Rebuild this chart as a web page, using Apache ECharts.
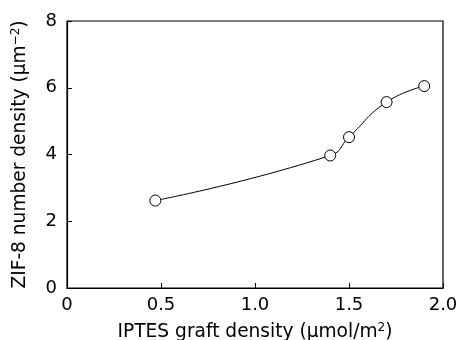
<!DOCTYPE html>
<html>
<head>
<meta charset="utf-8">
<script src="https://cdn.jsdelivr.net/npm/echarts@6/dist/echarts.min.js"></script>
<style>
  html, body { margin: 0; padding: 0; background: #fff; }
  #chart { width: 457px; height: 340px; }
</style>
</head>
<body>
<div id="chart"></div>
<script>
// IPTES graft density (umol/m2) vs ZIF-8 number density (um-2)
var graftDensity = [0.47, 1.40, 1.50, 1.70, 1.90];
var zifDensity = [2.62, 3.97, 4.52, 5.57, 6.05];
var xTicks = [0, 0.5, 1.0, 1.5, 2.0];
var yTicks = [0, 2, 4, 6, 8];

var font = "'DejaVu Sans', sans-serif";
var points = graftDensity.map(function (x, i) { return [x, zifDensity[i]]; });

var nameRich = {
    a: { fontFamily: font, fontSize: 18.6, color: '#000', lineHeight: 20 },
    s: { fontFamily: font, fontSize: 12, color: '#000', lineHeight: 20, verticalAlign: 'top' }
};

var chart = echarts.init(document.getElementById('chart'));
chart.setOption({
    animation: false,
    backgroundColor: '#fff',
    grid: {
        left: 67, right: 14, top: 21, bottom: 52,
        outerBoundsMode: 'none',
        show: true, borderColor: '#000', borderWidth: 1.2
    },
    xAxis: {
        type: 'value',
        min: xTicks[0],
        max: xTicks[xTicks.length - 1],
        interval: 0.5,
        name: '{a|IPTES graft density (μmol/m}{s|2}{a|)}',
        nameLocation: 'middle',
        nameGap: 34,
        nameTextStyle: { rich: nameRich },
        axisLine: { lineStyle: { color: '#000', width: 1.2 } },
        axisTick: { inside: true, length: 5, lineStyle: { color: '#000' } },
        axisLabel: {
            margin: 8, fontFamily: font, fontSize: 18, color: '#000',
            formatter: function (v) { return v === 0 ? '0' : v.toFixed(1); }
        },
        splitLine: { show: false }
    },
    yAxis: {
        type: 'value',
        min: yTicks[0],
        max: yTicks[yTicks.length - 1],
        interval: 2,
        name: '{a|ZIF-8 number density (μm}{s|−2}{a|)}',
        nameLocation: 'middle',
        nameGap: 37,
        nameTextStyle: { rich: nameRich },
        axisLine: { lineStyle: { color: '#000', width: 1.2 } },
        axisTick: { inside: true, length: 5, lineStyle: { color: '#000' } },
        axisLabel: { margin: 10, fontFamily: font, fontSize: 18, color: '#000' },
        splitLine: { show: false }
    },
    series: [{
        type: 'line',
        data: points,
        smooth: 0.5,
        symbol: 'circle',
        symbolSize: 11,
        lineStyle: { color: '#000', width: 1 },
        itemStyle: { color: '#fff', borderColor: '#000', borderWidth: 1 }
    }]
});
</script>
</body>
</html>
